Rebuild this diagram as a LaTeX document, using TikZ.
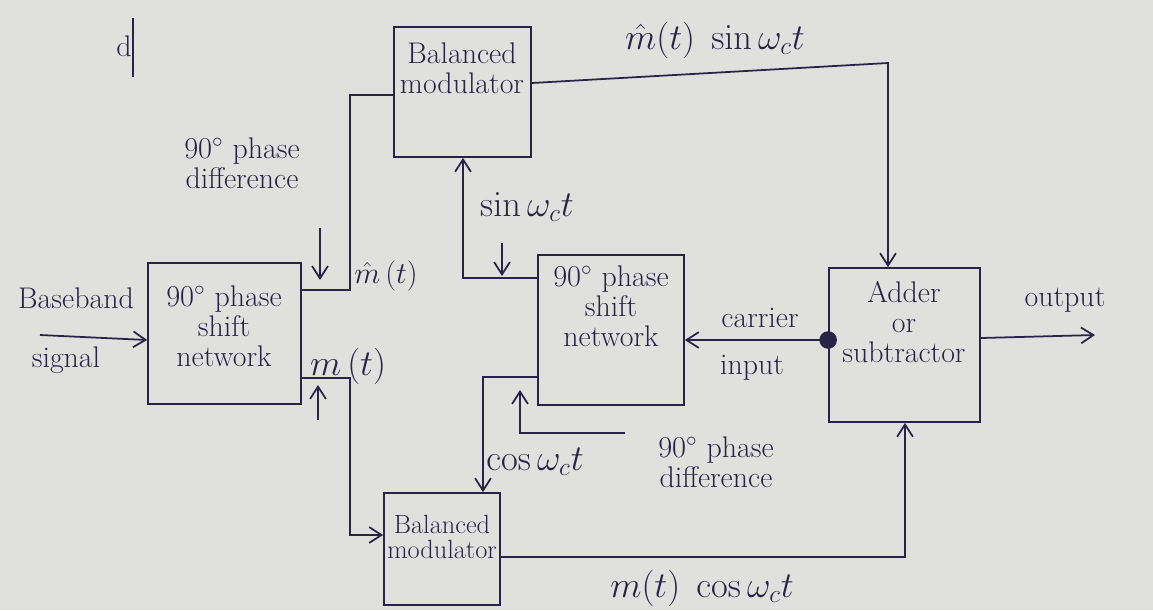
\documentclass[tikz,border=0pt]{standalone}
\usepackage{amsmath}
\usetikzlibrary{arrows.meta,calc}
\definecolor{ink}{RGB}{40,36,72}
\definecolor{paper}{RGB}{224,224,221}
\tikzset{
  blk/.style={draw=ink, line width=1pt, minimum width=#1, inner sep=0pt},
  wire/.style={draw=ink, line width=1pt},
  arr/.style={wire, -{Straight Barb[length=7pt,width=9pt]}},
  lbl/.style={text=ink, font=\fontsize{17}{20}\selectfont, align=center, inner sep=1pt},
  sml/.style={text=ink, font=\fontsize{15}{17}\selectfont, align=center, inner sep=1pt},
  big/.style={text=ink, font=\fontsize{20}{22}\selectfont, inner sep=1pt}
}
\begin{document}
\begin{tikzpicture}[x=0.02cm,y=-0.02cm]
\useasboundingbox (0,0) rectangle (1153,610);
\fill[paper] (0,0) rectangle (1153,610);

% boxes
\node[blk=3.06cm, minimum height=2.82cm] (A) at (224.5,333.5) {};
\node[blk=2.74cm, minimum height=2.60cm] (B1) at (462.5,92) {};
\node[blk=2.92cm, minimum height=3.00cm] (C) at (611,330) {};
\node[blk=3.02cm, minimum height=3.08cm] (D) at (904.5,345) {};
\node[blk=2.32cm, minimum height=2.24cm] (B2) at (442,549) {};

% box texts
\node[lbl] (tA) at (224,326) {$90^\circ$ phase\\[-3pt] shift\\[-3pt] network};
\node[lbl] (tB1) at (462,68) {Balanced\\[-3pt] modulator};
\node[lbl] (tC) at (611,306) {$90^\circ$ phase\\[-3pt] shift\\[-3pt] network};
\node[lbl] (tD) at (904,322) {Adder\\[-3pt] or\\[-3pt] subtractor};
\node[sml] (tB2) at (442,537) {Balanced\\[-3pt] modulator};

% coordinates
\coordinate (bin) at (40,335);
\coordinate (up1) at (888,63);
\coordinate (dot) at (D.west |- 0,340);
\coordinate (out) at (1095,335);
\coordinate (pd2) at (625,433);
\coordinate (dA) at (320,228);
\coordinate (dAe) at (320,280);
\coordinate (dC) at (502,243);
\coordinate (dCe) at (502,276);
\coordinate (uA) at (318,420);
\coordinate (uAe) at (318,385);
\coordinate (dtop) at (133,18);
\coordinate (dbot) at (133,77);

% connectors
\draw[arr] (bin) -- (A.west |- 0,340);
\draw[wire] (A.east |- 0,290) -| (350,95) -- (B1.west |- 0,95);
\draw[arr] (A.east |- 0,378) -| (350,535) -- (B2.west |- 0,535);
\draw[arr] (B1.east |- 0,83) -- (up1) -- (D.north -| up1);
\draw[arr] (C.west |- 0,278) -| (B1.south -| 463,0);
\draw[arr] (C.west |- 0,377) -| (B2.north -| 483,0);
\fill[ink] (dot) circle (5pt);
\draw[arr] (dot) -- (C.east |- 0,340);
\draw[arr] (pd2) -| (520,390);
\draw[arr] (B2.east |- 0,557) -| (D.south -| 905,0);
\draw[arr] (D.east |- 0,338) -- (out);
\draw[arr] (dA) -- (dAe);
\draw[arr] (dC) -- (dCe);
\draw[arr] (uA) -- (uAe);
\draw[wire] (dtop) -- (dbot);

% labels
\node[lbl] (l1) at (76,298) {Baseband};
\node[lbl] (l2) at (66,360) {signal};
\node[lbl] (l3) at (242,163) {$90^\circ$ phase\\[-3pt] difference};
\node[lbl] (l4) at (386,276) {$\hat{m}\,(t)$};
\node[big] (l5) at (348,366) {$m\,(t)$};
\node[big] (l6) at (715,40) {$\hat{m}(t)\;\sin\omega_c t$};
\node[big] (l7) at (527,207) {$\sin\omega_c t$};
\node[lbl] (l8) at (760,318) {carrier};
\node[lbl] (l9) at (752,368) {input};
\node[lbl] (l10) at (1065,300) {output};
\node[big] (l11) at (535,462) {$\cos\omega_c t$};
\node[lbl] (l12) at (716,462) {$90^\circ$ phase\\[-3pt] difference};
\node[big] (l13) at (702,588) {$m(t)\;\cos\omega_c t$};
\node[lbl] (l14) at (124,46) {d};
\end{tikzpicture}
\end{document}
